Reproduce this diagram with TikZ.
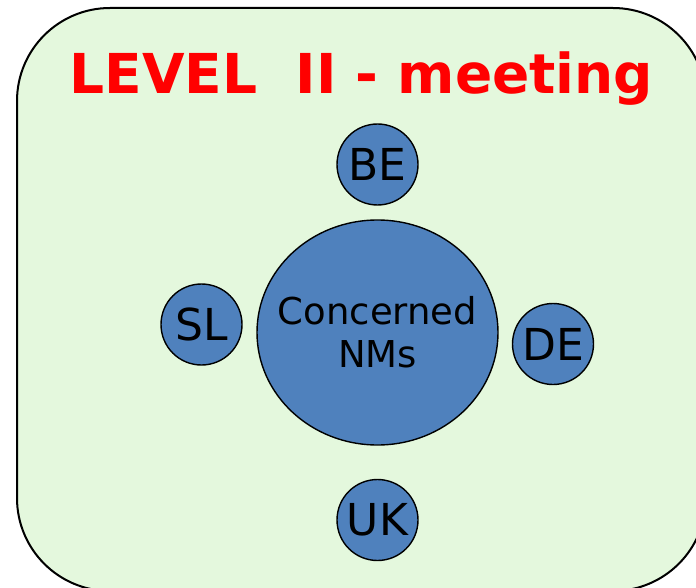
\documentclass[tikz,border=0pt]{standalone}
\usepackage{fontspec}
\setmainfont{DejaVu Sans}
\usetikzlibrary{shapes.geometric}
\definecolor{bgreen}{HTML}{E4F8DD}
\definecolor{nodeblue}{HTML}{4F81BD}
\definecolor{titlered}{HTML}{FF0000}
\tikzset{
  smallnode/.style={circle, draw=black, line width=1.4pt, fill=nodeblue, minimum size=81pt, inner sep=0pt,
    font=\fontsize{44}{44}\selectfont},
  bignode/.style={ellipse, draw=black, line width=1.4pt, fill=nodeblue, minimum width=241pt, minimum height=225pt, inner sep=0pt},
  bigtext/.style={align=center, inner sep=0pt, font=\fontsize{37}{43}\selectfont},
  titletext/.style={text=titlered, inner sep=0pt, font=\bfseries\fontsize{55}{55}\selectfont},
}
\begin{document}
\begin{tikzpicture}[x=1pt,y=-1pt]
\useasboundingbox (0,0) rectangle (696,588);
\clip (0,0) rectangle (696,588);
\draw[line width=2pt, fill=bgreen, rounded corners=93pt] (17,8) rectangle (706,591);
\node[titletext, anchor=base] (title) at (361.5,94) {LEVEL\ \ II - meeting};
\node[bignode] (cn) at (377.5,332.5) {};
\node[bigtext] (cnlabel) at (cn.center) {Concerned\\NMs};
\node[smallnode] (be) at (377.5,164.5) {BE};
\node[smallnode] (sl) at (201.5,324.5) {SL};
\node[smallnode] (de) at (553,344) {DE};
\node[smallnode] (uk) at (377.5,520) {UK};
\end{tikzpicture}
\end{document}
